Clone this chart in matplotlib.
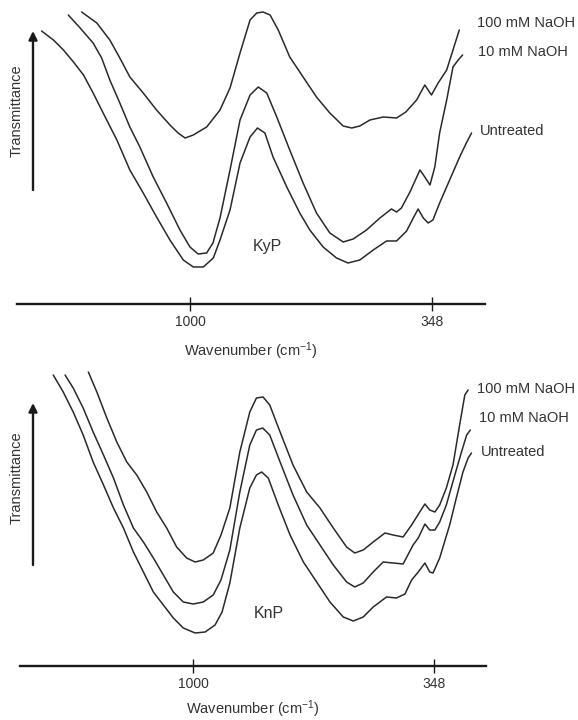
import matplotlib
matplotlib.use("Agg")
import matplotlib.pyplot as plt
from matplotlib.patches import FancyArrowPatch

INK = "#2a2a2a"
TXT = "#333333"

plt.rcParams.update({
    "font.family": ["Liberation Sans", "DejaVu Sans"],
    "font.size": 10,
    "text.color": TXT,
    "mathtext.fontset": "custom",
    "mathtext.rm": "Liberation Sans",
    "mathtext.it": "Liberation Sans:italic",
})

SERIES = ["100 mM NaOH", "10 mM NaOH", "Untreated"]
TICKS = [1000, 348]

# ---- KyP (top panel): wavenumber (cm-1) vs transmittance (arb. units)
kyp_100_wn = [1292, 1251, 1216, 1189, 1162, 1126, 1090, 1054, 1032, 1013, 991, 955, 919, 892,
              865, 838, 820, 803, 784, 762, 731, 695, 659, 623, 587, 564, 542, 515, 479, 443,
              418, 389, 367, 349, 331, 308, 291, 274]
kyp_100_t = [288, 277, 260, 242, 223, 207, 190, 175, 167, 162, 165, 173, 190, 212,
             247, 280, 287, 288, 285, 270, 243, 223, 203, 187, 174, 172, 174, 180, 183, 182,
             188, 200, 215, 205, 217, 230, 250, 270]
kyp_10_wn = [1328, 1296, 1261, 1238, 1216, 1189, 1162, 1135, 1099, 1063, 1027, 1000, 978, 955,
             938, 919, 892, 865, 838, 816, 793, 766, 731, 695, 659, 623, 587, 560, 524, 488,
             457, 443, 430, 407, 380, 367, 353, 340, 327, 308, 291, 277, 265]
kyp_10_t = [285, 272, 257, 242, 220, 197, 173, 153, 123, 97, 70, 53, 46, 47,
            57, 82, 130, 180, 205, 213, 207, 183, 150, 117, 87, 67, 58, 61, 70, 82,
            91, 88, 92, 108, 130, 123, 115, 133, 167, 200, 233, 240, 245]
kyp_un_wn = [1400, 1368, 1341, 1314, 1287, 1261, 1234, 1197, 1162, 1126, 1090, 1054, 1018, 991,
             964, 937, 919, 892, 865, 838, 818, 798, 776, 739, 704, 677, 641, 605, 574, 542,
             506, 470, 443, 416, 398, 385, 371, 358, 345, 327, 300, 273, 255, 241]
kyp_un_t = [269, 260, 250, 238, 225, 207, 187, 160, 130, 107, 83, 60, 40, 33,
            33, 42, 60, 90, 137, 163, 172, 167, 143, 113, 87, 70, 53, 42, 37, 40,
            50, 59, 59, 69, 82, 91, 82, 77, 80, 97, 120, 143, 157, 167]

# ---- KnP (bottom panel)
knp_100_wn = [1284, 1261, 1234, 1207, 1180, 1153, 1126, 1099, 1072, 1045, 1018, 995, 973, 946,
              925, 901, 874, 847, 829, 811, 793, 765, 730, 693, 657, 621, 585, 563, 540, 513,
              481, 459, 432, 409, 387, 373, 360, 346, 333, 315, 297, 279, 265, 256]
knp_100_t = [288, 268, 242, 218, 198, 185, 168, 148, 132, 113, 102, 98, 100, 107,
             125, 152, 208, 248, 262, 263, 255, 228, 195, 168, 152, 132, 113, 107, 110, 118,
             127, 125, 123, 135, 148, 156, 150, 148, 155, 172, 195, 235, 265, 270]
knp_10_wn = [1347, 1325, 1298, 1271, 1243, 1216, 1189, 1162, 1135, 1108, 1081, 1054, 1027, 1000,
             973, 946, 925, 901, 874, 847, 829, 812, 793, 765, 730, 693, 657, 621, 585, 563,
             540, 513, 486, 459, 432, 405, 391, 373, 360, 346, 333, 315, 292, 274, 260, 250]
knp_10_t = [285, 272, 252, 228, 205, 182, 155, 132, 118, 102, 85, 68, 58, 56,
            58, 65, 80, 110, 168, 215, 230, 232, 225, 198, 165, 135, 115, 95, 78, 73,
            77, 88, 98, 97, 96, 115, 122, 136, 130, 130, 138, 155, 185, 208, 225, 230]
knp_un_wn = [1379, 1352, 1325, 1298, 1271, 1243, 1216, 1189, 1162, 1135, 1108, 1081, 1054, 1027,
             995, 968, 941, 922, 901, 874, 847, 829, 815, 797, 770, 738, 702, 666, 630, 594,
             567, 540, 513, 477, 450, 427, 409, 391, 373, 360, 351, 333, 306, 288, 270, 256, 247]
knp_un_t = [285, 268, 248, 225, 198, 175, 152, 132, 108, 88, 68, 55, 42, 32,
            27, 28, 35, 48, 77, 132, 172, 185, 188, 182, 155, 125, 98, 78, 58, 43,
            39, 43, 53, 63, 62, 66, 80, 88, 97, 88, 87, 102, 135, 162, 188, 202, 207]

panels = [
    dict(name="KyP", rect=[0.0289, 0.5778, 0.810, 0.4222], xlim=(1467, 205), ylim=(-4, 300),
         curves=[(kyp_100_wn, kyp_100_t), (kyp_10_wn, kyp_10_t), (kyp_un_wn, kyp_un_t)],
         labels=[(227, 277), (224, 248), (219, 169)], name_xy=(792, 53),
         tlabel_y=1 - 111 / 720, arrow=(1 - 190 / 720, 1 - 31 / 720), labelpad=8),
    dict(name="KnP", rect=[0.0346, 0.075, 0.806, 0.425], xlim=(1469, 208), ylim=(-6, 300),
         curves=[(knp_100_wn, knp_100_t), (knp_10_wn, knp_10_t), (knp_un_wn, knp_un_t)],
         labels=[(233, 271), (227, 242), (222, 208)], name_xy=(795, 46),
         tlabel_y=1 - 478 / 720, arrow=(1 - 565 / 720, 1 - 403 / 720), labelpad=5),
]

fig = plt.figure(figsize=(5.78, 7.2), dpi=100)

for p in panels:
    ax = fig.add_axes(p["rect"])
    for wn, t in p["curves"]:
        ax.plot(wn, t, color=INK, lw=1.1, solid_joinstyle="round", solid_capstyle="round")
    ax.set_xlim(*p["xlim"])
    ax.set_ylim(*p["ylim"])
    for s in ("top", "right", "left"):
        ax.spines[s].set_visible(False)
    ax.spines["bottom"].set_linewidth(1.7)
    ax.spines["bottom"].set_color("#1a1a1a")
    ax.set_yticks([])
    ax.set_xticks(TICKS)
    ax.set_xticklabels([str(v) for v in TICKS])
    ax.tick_params(axis="x", direction="inout", length=10, width=1.0, pad=3,
                   colors="#1a1a1a", labelcolor=TXT, labelsize=10)
    ax.set_xlabel("Wavenumber (cm$^{-1}$)", fontsize=10.5, labelpad=p["labelpad"], color=TXT)
    for lab, (x, y) in zip(SERIES, p["labels"]):
        ax.text(x, y, lab, ha="left", va="center", fontsize=10.5, clip_on=False)
    ax.text(*p["name_xy"], p["name"], ha="center", va="center", fontsize=11.5)
    fig.text(16.7 / 578, p["tlabel_y"], "Transmittance", rotation=90,
             ha="center", va="center", fontsize=10.5)
    y0, y1 = p["arrow"]
    fig.add_artist(FancyArrowPatch(
        (33 / 578, y0), (33 / 578, y1), transform=fig.transFigure,
        arrowstyle="-|>,head_length=5,head_width=2.5", lw=1.7, color="#1a1a1a",
        shrinkA=0, shrinkB=0))

fig.savefig("out.png", dpi=100)
